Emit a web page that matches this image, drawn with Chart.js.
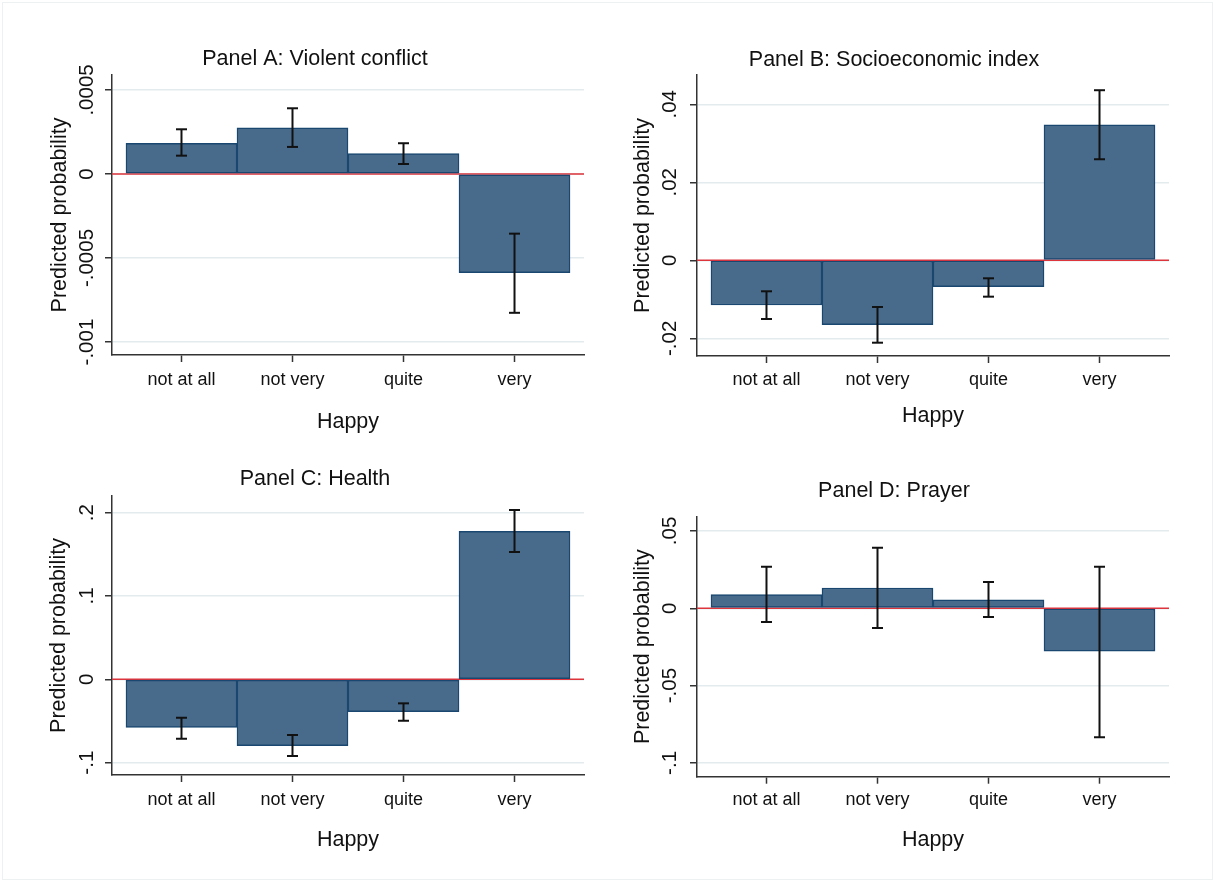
<!DOCTYPE html>
<html>
<head>
<meta charset="utf-8">
<title>Predicted probability by happiness</title>
<script src="https://cdn.jsdelivr.net/npm/chart.js@4.4.1/dist/chart.umd.min.js"></script>
<style>
  body { margin: 0; background: #fff; }
  #wrap { position: relative; width: 1213px; height: 880px; }
  #frame { position: absolute; left: 2px; top: 2px; width: 1211px; height: 878px; box-sizing: border-box; border: 1px solid #eef1f2; }
  canvas { position: absolute; }
</style>
</head>
<body>
<div id="wrap">
  <div id="frame"></div>
  <canvas id="panelA" width="606" height="440" style="left:0px;top:0px"></canvas>
  <canvas id="panelB" width="607" height="440" style="left:606px;top:0px"></canvas>
  <canvas id="panelC" width="606" height="440" style="left:0px;top:440px"></canvas>
  <canvas id="panelD" width="607" height="440" style="left:606px;top:440px"></canvas>
</div>
<script>
// categories on the x axis (bars sit at x = 1..4)
const categories = ['not at all', 'not very', 'quite', 'very'];
const xRange = [0.374, 4.626];

// Panel A: Violent conflict
const violentEst = [0.000183, 0.000274, 0.000121, -0.000587];
const violentLo = [0.000109, 0.000161, 0.0000595, -0.000826];
const violentHi = [0.000266, 0.000391, 0.000183, -0.000355];
const violentTicks = [-0.001, -0.0005, 0, 0.0005];
const violentTickLabels = ['-.001', '-.0005', '0', '.0005'];
const violentRange = [-0.001077, 0.000589];

// Panel B: Socioeconomic index
const socioEst = [-0.01146, -0.0165, -0.00677, 0.0347];
const socioLo = [-0.01505, -0.02113, -0.00933, 0.0259];
const socioHi = [-0.00795, -0.01197, -0.00462, 0.0436];
const socioTicks = [-0.02, 0, 0.02, 0.04];
const socioTickLabels = ['-.02', '0', '.02', '.04'];
const socioRange = [-0.02454, 0.0475];

// Panel C: Health
const healthEst = [-0.0576, -0.0797, -0.0389, 0.1776];
const healthLo = [-0.0713, -0.092, -0.0497, 0.1528];
const healthHi = [-0.0461, -0.0668, -0.0288, 0.2032];
const healthTicks = [-0.1, 0, 0.1, 0.2];
const healthTickLabels = ['-.1', '0', '.1', '.2'];
const healthRange = [-0.1148, 0.22];

// Panel D: Prayer
const prayerEst = [0.0088, 0.0131, 0.0054, -0.0278];
const prayerLo = [-0.0089, -0.0127, -0.0056, -0.0834];
const prayerHi = [0.0269, 0.0392, 0.017, 0.0269];
const prayerTicks = [-0.1, -0.05, 0, 0.05];
const prayerTickLabels = ['-.1', '-.05', '0', '.05'];
const prayerRange = [-0.1089, 0.0592];

const FONT = '"Liberation Sans", Arial, Helvetica, sans-serif';
const TEXT = '#111';
const AXIS = '#333';
const TICK_LEN = 7;
const Y_TICK_SIZE = 20.5;
const X_TICK_SIZE = 18;
const TITLE_SIZE = 21.5;

const measureCtx = document.createElement('canvas').getContext('2d');
function widestLabel(labels, size) {
	measureCtx.font = size + 'px ' + FONT;
	return Math.max(...labels.map((l) => measureCtx.measureText(l).width));
}

function drawPanel(canvasId, p) {
	const datasets = [];

	// zero line behind the bars
	datasets.push({
		type: 'line',
		data: [{ x: xRange[0], y: 0 }, { x: xRange[1], y: 0 }],
		borderColor: 'rgb(222, 52, 60)',
		borderWidth: 1.5,
		pointRadius: 0,
		order: 5,
	});

	datasets.push({
		type: 'bar',
		data: p.est.map((v, i) => ({ x: i + 1, y: v })),
		backgroundColor: 'rgb(72, 106, 139)',
		borderColor: 'rgb(26, 71, 111)',
		borderWidth: 1.5,
		borderSkipped: false,
		barPercentage: 1,
		categoryPercentage: 1,
		order: 3,
	});

	// confidence intervals, one small line per bar with flat caps
	p.lo.forEach((lo, i) => {
		datasets.push({
			type: 'line',
			data: [{ x: i + 1, y: lo }, { x: i + 1, y: p.hi[i] }],
			borderColor: '#111',
			borderWidth: 2,
			pointStyle: 'line',
			pointRadius: 5.5,
			pointBorderWidth: 2,
			pointBorderColor: '#111',
			order: 1,
		});
	});

	const yPad = p.yLabelOffset - TICK_LEN - widestLabel(p.tickLabels, Y_TICK_SIZE) / 2;

	new Chart(document.getElementById(canvasId), {
		type: 'bar',
		data: { datasets: datasets },
		options: {
			responsive: false,
			animation: false,
			events: [],
			layout: {
				autoPadding: false,
				padding: { left: p.padLeft, right: p.padRight, top: 0, bottom: 0 },
			},
			plugins: {
				legend: { display: false },
				tooltip: { enabled: false },
				title: {
					display: true,
					text: p.title,
					color: TEXT,
					font: { family: FONT, size: TITLE_SIZE, weight: 'normal' },
					padding: { top: p.titleTop, bottom: p.titleBottom },
				},
			},
			scales: {
				x: {
					type: 'linear',
					min: xRange[0],
					max: xRange[1],
					offset: false,
					afterBuildTicks: (scale) => {
						scale.ticks = categories.map((c, i) => ({ value: i + 1 }));
					},
					afterFit: (scale) => {
						scale.height = p.xHeight;
					},
					ticks: {
						color: TEXT,
						font: { family: FONT, size: X_TICK_SIZE },
						maxRotation: 0,
						padding: p.xLabelPad,
						callback: (v, i) => categories[i],
					},
					grid: {
						offset: false,
						drawOnChartArea: false,
						tickLength: TICK_LEN,
						tickColor: AXIS,
						tickWidth: 1.5,
					},
					border: { color: AXIS, width: 1.5 },
					title: {
						display: true,
						text: 'Happy',
						color: TEXT,
						font: { family: FONT, size: TITLE_SIZE },
						padding: { top: 0, bottom: p.xTitlePad },
					},
				},
				y: {
					type: 'linear',
					min: p.range[0],
					max: p.range[1],
					afterBuildTicks: (scale) => {
						scale.ticks = p.ticks.map((v) => ({ value: v }));
					},
					afterFit: (scale) => {
						scale.width = p.yWidth;
					},
					ticks: {
						color: TEXT,
						font: { family: FONT, size: Y_TICK_SIZE },
						minRotation: 90,
						maxRotation: 90,
						crossAlign: 'center',
						padding: yPad,
						callback: (v, i) => p.tickLabels[i],
					},
					grid: {
						color: '#e4ebee',
						lineWidth: 1.5,
						tickLength: TICK_LEN,
						tickColor: AXIS,
						tickWidth: 1.5,
					},
					border: { color: AXIS, width: 1.5 },
					title: {
						display: true,
						text: 'Predicted probability',
						color: TEXT,
						font: { family: FONT, size: TITLE_SIZE },
						padding: { top: p.yTitlePad, bottom: 0 },
					},
				},
			},
		},
	});
}

drawPanel('panelA', {
	title: 'Panel A: Violent conflict',
	est: violentEst, lo: violentLo, hi: violentHi,
	ticks: violentTicks, tickLabels: violentTickLabels, range: violentRange,
	padLeft: 46, padRight: 22, titleTop: 46.1, titleBottom: 3.1,
	yWidth: 66, yTitlePad: 0.8, yLabelOffset: 25,
	xHeight: 85, xLabelPad: 7.2, xTitlePad: 5.1,
});

drawPanel('panelB', {
	title: 'Panel B: Socioeconomic index',
	est: socioEst, lo: socioLo, hi: socioHi,
	ticks: socioTicks, tickLabels: socioTickLabels, range: socioRange,
	padLeft: 13, padRight: 44, titleTop: 47.1, titleBottom: 2.1,
	yWidth: 78, yTitlePad: 11.4, yLabelOffset: 27,
	xHeight: 84, xLabelPad: 6.2, xTitlePad: 10.8,
});

drawPanel('panelC', {
	title: 'Panel C: Health',
	est: healthEst, lo: healthLo, hi: healthHi,
	ticks: healthTicks, tickLabels: healthTickLabels, range: healthRange,
	padLeft: 46, padRight: 22, titleTop: 26.1, titleBottom: 4.1,
	yWidth: 66, yTitlePad: 0.3, yLabelOffset: 25,
	xHeight: 105, xLabelPad: 7.2, xTitlePad: 26.6,
});

drawPanel('panelD', {
	title: 'Panel D: Prayer',
	est: prayerEst, lo: prayerLo, hi: prayerHi,
	ticks: prayerTicks, tickLabels: prayerTickLabels, range: prayerRange,
	padLeft: 13, padRight: 44, titleTop: 38.1, titleBottom: 12.8,
	yWidth: 78, yTitlePad: 11.1, yLabelOffset: 27,
	xHeight: 103.3, xLabelPad: 5.5, xTitlePad: 27.4,
});
</script>
</body>
</html>
